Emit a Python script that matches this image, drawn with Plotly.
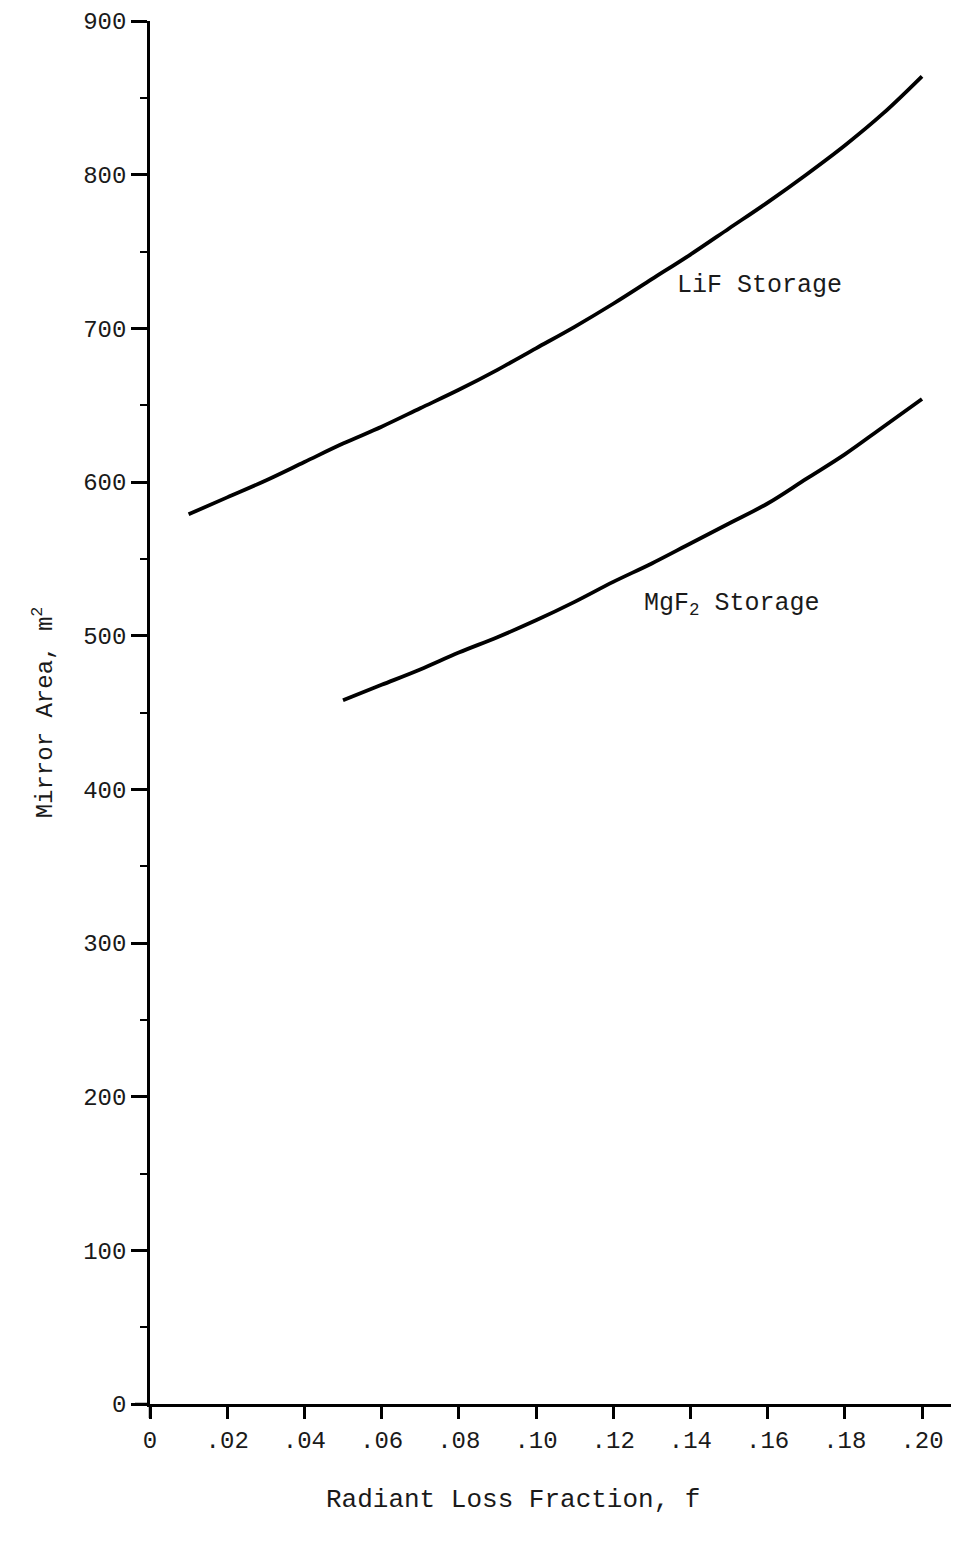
import plotly.graph_objects as go

# Data
lif_f = [0.01, 0.02, 0.03, 0.04, 0.05, 0.06, 0.07, 0.08, 0.09, 0.10,
         0.11, 0.12, 0.13, 0.14, 0.15, 0.16, 0.17, 0.18, 0.19, 0.20]
lif_area = [579, 590, 601, 613, 625, 636, 648, 660, 673, 687,
            701, 716, 732, 748, 765, 782, 800, 819, 840, 864]

mgf2_f = [0.05, 0.06, 0.07, 0.08, 0.09, 0.10, 0.11, 0.12, 0.13, 0.14,
          0.15, 0.16, 0.17, 0.18, 0.19, 0.20]
mgf2_area = [458, 468, 478, 489, 499, 510, 522, 535, 547, 560,
             573, 586, 602, 618, 636, 654]

x_tickvals = [0, 0.02, 0.04, 0.06, 0.08, 0.10, 0.12, 0.14, 0.16, 0.18, 0.20]
x_ticktext = ["0", ".02", ".04", ".06", ".08", ".10", ".12", ".14", ".16", ".18", ".20"]
y_tickvals = [0, 100, 200, 300, 400, 500, 600, 700, 800, 900]
y_ticktext = ["0", "100", "200", "300", "400", "500", "600", "700", "800", "900"]
y_minor = [50, 150, 250, 350, 450, 550, 650, 750, 850]

FONT = "Liberation Mono, Courier New, monospace"
INK = "#1a1a1a"

# plot geometry (figure coords; page has 8px body margin)
L, T = 142, 13
PW, PH = 809, 1383
B = 1544 - T - PH

fig = go.Figure()
fig.add_trace(go.Scatter(x=lif_f, y=lif_area, mode="lines",
                         line=dict(color="black", width=3.8, shape="spline"),
                         name="LiF Storage", showlegend=False))
fig.add_trace(go.Scatter(x=mgf2_f, y=mgf2_area, mode="lines",
                         line=dict(color="black", width=3.8, shape="spline"),
                         name="MgF2 Storage", showlegend=False))

fig.add_annotation(x=0.136, y=728, text="LiF Storage", showarrow=False,
                   xanchor="left", yanchor="middle",
                   font=dict(family=FONT, size=25, color=INK))
fig.add_annotation(x=0.1275, y=520, text="MgF<sub>2</sub> Storage", showarrow=False,
                   xanchor="left", yanchor="middle",
                   font=dict(family=FONT, size=25, color=INK))
fig.add_annotation(x=(513 - 150) / PW, y=-(1500 - 1404) / PH, xref="paper", yref="paper",
                   text="Radiant Loss Fraction, f", showarrow=False,
                   xanchor="center", yanchor="middle",
                   font=dict(family=FONT, size=26, color=INK))

# small axis overhangs past the origin
fig.add_shape(type="line", xref="paper", yref="paper", x0=-15 / PW, x1=0, y0=0, y1=0,
              line=dict(color="black", width=2.5))
fig.add_shape(type="line", xref="paper", yref="paper", x0=0, x1=0, y0=-14 / PH, y1=0,
              line=dict(color="black", width=2.5))

fig.update_layout(
    width=959, height=1544,
    margin=dict(l=L, r=959 - L - PW, t=T, b=B, pad=0, autoexpand=False),
    paper_bgcolor="white", plot_bgcolor="white",
    font=dict(family=FONT, size=24, color=INK),
    xaxis=dict(range=[0, PW / 3860], tickmode="array", tickvals=x_tickvals,
               ticktext=x_ticktext, ticks="outside", ticklen=12, tickwidth=2.5,
               tickcolor="black", showline=True, linecolor="black", linewidth=2.5,
               showgrid=False, zeroline=False, fixedrange=True,
               ticklabeloverflow="allow", automargin=False),
    yaxis=dict(range=[0, 900], tickmode="array", tickvals=y_tickvals,
               ticktext=y_ticktext, ticks="outside", ticklen=16, tickwidth=2.5,
               tickcolor="black", showline=True, linecolor="black", linewidth=2.5,
               showgrid=False, zeroline=False, ticklabeloverflow="allow",
               automargin=False,
               minor=dict(tickvals=y_minor, ticks="outside", ticklen=7,
                          tickwidth=2, tickcolor="black"),
               title=dict(text="Mirror Area, m<sup>2</sup>", standoff=24,
                          font=dict(family=FONT, size=24, color=INK))),
)

fig.write_html("out.html")
